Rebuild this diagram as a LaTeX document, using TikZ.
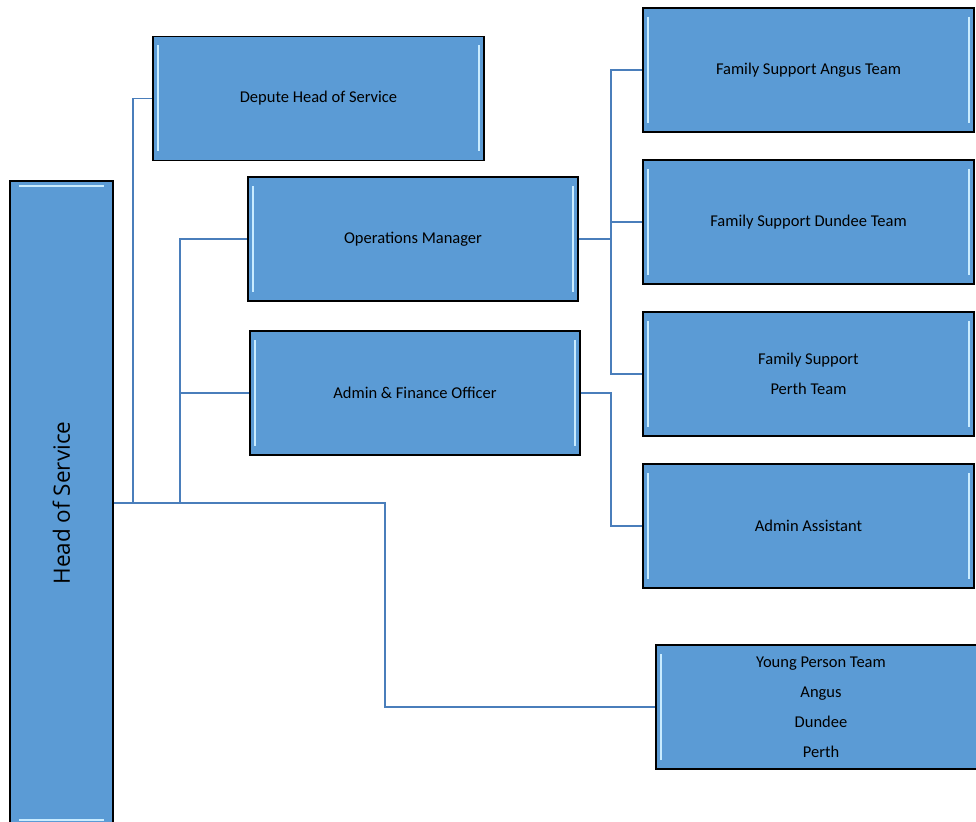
\documentclass[tikz,border=0pt]{standalone}
\usepackage{fontspec}
\setmainfont{Carlito}
\newfontfamily\hosfont{Open Sans}
\definecolor{boxblue}{HTML}{5B9BD5}
\definecolor{bevellight}{HTML}{C9ECFF}
\definecolor{linkblue}{HTML}{4A7EBB}
\begin{document}
\begin{tikzpicture}[x=1pt,y=-1pt,
  link/.style={draw=linkblue,line width=1.6pt},
  main box/.style={draw=black,line width=1.3pt,fill=boxblue,inner sep=0pt,
  minimum width=331pt,minimum height=124pt,align=center,
  font=\fontsize{16.5}{30}\selectfont,
  path picture={
    \draw[bevellight,line width=2.5pt]
      ([xshift=5pt,yshift=-9pt]path picture bounding box.north west) --
      ([xshift=5pt,yshift=9pt]path picture bounding box.south west);
    \draw[bevellight,line width=2.5pt]
      ([xshift=-5pt,yshift=-9pt]path picture bounding box.north east) --
      ([xshift=-5pt,yshift=9pt]path picture bounding box.south east);}},
  tall box/.style={main box,minimum width=103pt,minimum height=644pt,
  font=\hosfont\fontsize{22.5}{26}\selectfont,
  path picture={
    \draw[bevellight,line width=2.5pt]
      ([xshift=9pt,yshift=-5pt]path picture bounding box.north west) --
      ([xshift=-9pt,yshift=-5pt]path picture bounding box.north east);
    \draw[bevellight,line width=2.5pt]
      ([xshift=9pt,yshift=5pt]path picture bounding box.south west) --
      ([xshift=-9pt,yshift=5pt]path picture bounding box.south east);}}]

  \useasboundingbox (0,0) rectangle (976,821);

  \node[tall box] (hos) at (61.5,503) {\rotatebox{90}{Head of Service}};
  \node[main box] (depute) at (318.5,98.5) {Depute Head of Service};
  \node[main box,minimum width=330pt] (ops) at (413,239) {Operations Manager};
  \node[main box,minimum width=330pt] (adminfin) at (415,393) {Admin \& Finance Officer};
  \node[main box] (angus) at (808.5,70) {Family Support Angus Team};
  \node[main box] (dundee) at (808.5,222) {Family Support Dundee Team};
  \node[main box] (perth) at (808.5,374) {Family Support\\Perth Team};
  \node[main box] (adminasst) at (808.5,526) {Admin Assistant};
  \node[main box,minimum width=330pt] (young) at (821,707)
    {Young Person Team\\Angus\\Dundee\\Perth};

  % junctions on the lines
  \coordinate (jdep) at (133,503);
  \coordinate (jmid) at (180,503);
  \coordinate (jyoung) at (385,503);
  \coordinate (jfam) at (611,239);
  \coordinate (jadm) at (611,393);

  \draw[link] (hos.east) -- (jyoung) |- (young.west);
  \draw[link] (jdep) |- (depute.west);
  \draw[link] (jmid) |- (ops.west);
  \draw[link] (jmid) |- (adminfin.west);
  \draw[link] (ops.east) -- (jfam);
  \draw[link] (jfam) |- (angus.west);
  \draw[link] (jfam) |- (dundee.west);
  \draw[link] (jfam) |- (perth.west);
  \draw[link] (adminfin.east) -- (jadm) |- (adminasst.west);
\end{tikzpicture}
\end{document}
